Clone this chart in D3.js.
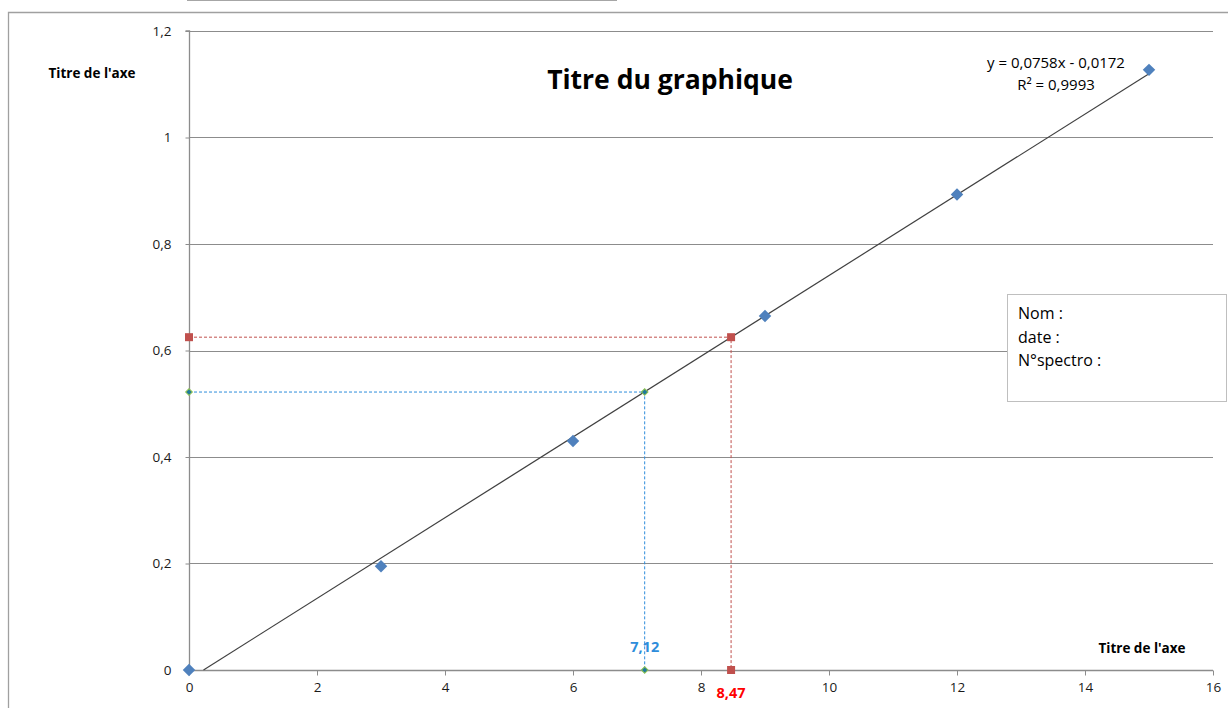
<!DOCTYPE html>
<html><head><meta charset="utf-8">
<script src="https://cdn.jsdelivr.net/npm/d3@7"></script>
<style>
html,body{margin:0;padding:0;background:#fff;}
svg{display:block;font-family:"Open Sans",sans-serif;}
</style></head>
<body>
<svg id="c" width="1228" height="708"></svg>
<script>
// Data
const xValues = [0, 3, 6, 9, 12, 15];
const yValues = [0, 0.195, 0.43, 0.665, 0.893, 1.127];
const slope = 0.0758, intercept = -0.0172;
const redPath = [[0, 0.625], [8.47, 0.625], [8.47, 0]];
const bluePath = [[0, 0.522], [7.12, 0.522], [7.12, 0]];
const xTicks = [0, 2, 4, 6, 8, 10, 12, 14, 16];
const yTicks = [0, 0.2, 0.4, 0.6, 0.8, 1, 1.2];
const chartTitle = "Titre du graphique";
const axisTitle = "Titre de l'axe";
const eqLines = ["y = 0,0758x - 0,0172", "R² = 0,9993"];
const boxLines = ["Nom :", "date :", "N°spectro :"];
const redLabel = "8,47", blueLabel = "7,12";

const svg = d3.select("#c");
const x = d3.scaleLinear().domain([0, 16]).range([189, 1213]);
const y = d3.scaleLinear().domain([0, 1.2]).range([670, 31]);
const fmt = d => String(+d.toFixed(1)).replace(".", ",");

// decorative top line & outer frame
svg.append("line").attr("x1",187).attr("x2",617).attr("y1",0.5).attr("y2",0.5).attr("stroke","#a6a6a6").attr("stroke-width",1);
svg.append("path").attr("d","M8.5,720 V12.5 H1240").attr("fill","none").attr("stroke","#a0a0a0").attr("stroke-width",1.3);

// gridlines
svg.append("g").selectAll("line").data(yTicks.filter(d=>d>0)).join("line")
  .attr("x1",x(0)).attr("x2",x(16)).attr("y1",d=>Math.round(y(d))+0.5).attr("y2",d=>Math.round(y(d))+0.5)
  .attr("stroke","#8c8c8c").attr("stroke-width",1);

// axes
const gx = svg.append("g").attr("transform",`translate(0,${Math.round(y(0))+0.5})`)
  .call(d3.axisBottom(x).tickValues(xTicks).tickFormat(d=>d).tickSize(5).tickPadding(7));
const gy = svg.append("g").attr("transform",`translate(${Math.round(x(0))+0.5},0)`)
  .call(d3.axisLeft(y).tickValues(yTicks).tickFormat(fmt).tickSize(4).tickPadding(14));
[gx,gy].forEach(g=>{
  g.select(".domain").attr("stroke","#8c8c8c").attr("stroke-width",1.3);
  g.selectAll(".tick line").attr("stroke","#8c8c8c");
  g.selectAll(".tick text").attr("fill","#1a1a1a").style("font-size","13.5px").style("font-family","'Open Sans', sans-serif");
});
gy.select(".domain").attr("d",`M-4,${y(1.2)}H0V${y(0)}H-4`);
gx.select(".domain").attr("d",`M${x(0)},0H${x(16)}`);

// trendline
const x0 = -intercept/slope;
svg.append("line").attr("x1",x(x0)).attr("y1",y(0)).attr("x2",x(15)).attr("y2",y(slope*15+intercept))
  .attr("stroke","#404040").attr("stroke-width",1.2);

// dashed helper lines
const lineGen = d3.line().x(d=>x(d[0])).y(d=>y(d[1]));
svg.append("path").attr("d",lineGen(redPath)).attr("fill","none").attr("stroke","#c0504d").attr("stroke-width",1).attr("stroke-dasharray","3,2");
svg.append("path").attr("d",lineGen(bluePath)).attr("fill","none").attr("stroke","#2e8ddb").attr("stroke-width",1).attr("stroke-dasharray","3,2");

// red squares
svg.append("g").selectAll("rect").data(redPath).join("rect")
  .attr("x",d=>x(d[0])-4).attr("y",d=>y(d[1])-4).attr("width",8).attr("height",8).attr("fill","#c0504d");
// blue/green small diamonds
svg.append("g").selectAll("path").data(bluePath).join("path")
  .attr("d",d3.symbol(d3.symbolSquare,22))
  .attr("transform",d=>`translate(${x(d[0])},${y(d[1])}) rotate(45)`)
  .attr("fill","#1f7a9c").attr("stroke","#8cc152").attr("stroke-width",1);

// data points
svg.append("g").selectAll("path").data(xValues.map((v,i)=>[v,yValues[i]])).join("path")
  .attr("d",d3.symbol(d3.symbolSquare,78))
  .attr("transform",d=>`translate(${x(d[0])},${y(d[1])}) rotate(45)`)
  .attr("fill","#4f81bd");

// texts
svg.append("text").attr("x",670).attr("y",89).attr("text-anchor","middle")
  .style("font-size","26.5px").style("font-weight","bold").attr("fill","#000").text(chartTitle);
svg.append("text").attr("x",92).attr("y",78).attr("text-anchor","middle")
  .style("font-size","13.5px").style("font-weight","bold").attr("fill","#000").text(axisTitle);
svg.append("text").attr("x",1142).attr("y",653).attr("text-anchor","middle")
  .style("font-size","13.5px").style("font-weight","bold").attr("fill","#000").text(axisTitle);
svg.append("g").selectAll("text").data(eqLines).join("text")
  .attr("x",1056).attr("y",(d,i)=>68+i*22).attr("text-anchor","middle")
  .style("font-size","15px").attr("fill","#000").text(d=>d);
svg.append("text").attr("x",x(7.12)).attr("y",652).attr("text-anchor","middle")
  .style("font-size","14.5px").style("font-weight","bold").attr("fill","#2e8ddb").text(blueLabel);
svg.append("text").attr("x",x(8.47)).attr("y",698).attr("text-anchor","middle")
  .style("font-size","14.5px").style("font-weight","bold").attr("fill","#ff0000").text(redLabel);

// info box
svg.append("rect").attr("x",1007.5).attr("y",294.5).attr("width",219).attr("height",107)
  .attr("fill","#fff").attr("stroke","#bfbfbf").attr("stroke-width",1);
svg.append("g").selectAll("text").data(boxLines).join("text")
  .attr("x",1018).attr("y",(d,i)=>319+i*23.5)
  .style("font-size","16px").attr("fill","#000").text(d=>d);
</script>
</body></html>
